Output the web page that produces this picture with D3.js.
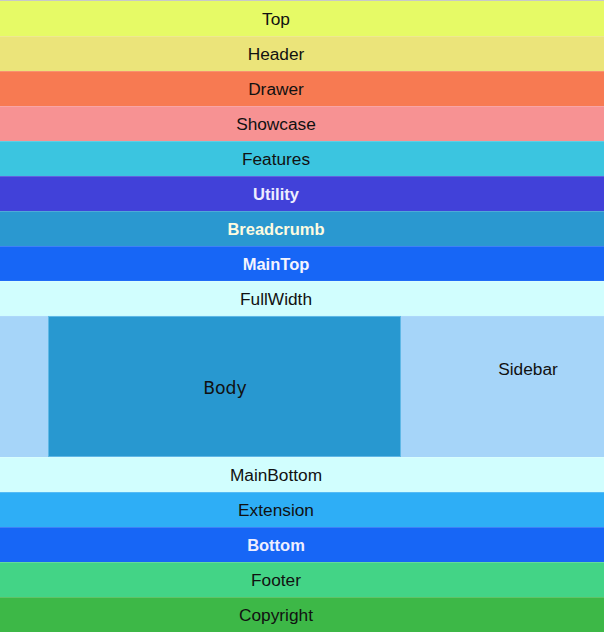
<!DOCTYPE html>
<html><head><meta charset="utf-8">
<script src="https://cdn.jsdelivr.net/npm/d3@7"></script>
<style>
html,body{margin:0;padding:0;background:#fff;}
svg{display:block;}
</style></head>
<body>
<svg id="chart" width="604" height="634"></svg>
<script>
// Layout sections, top to bottom (units = relative row height)
const sections = ["Top","Header","Drawer","Showcase","Features","Utility","Breadcrumb","MainTop","FullWidth","Main","MainBottom","Extension","Bottom","Footer","Copyright"];
const sectionUnits = [1,1,1,1,1,1,1,1,1,4.03,1,1,1,1,1];
const sectionColors = ["#e6fa66","#ebe47a","#f77a52","#f79293","#3bc5e0","#4141d9","#2a98d0","#1766f6","#d1fefe","#a6d5f9","#d1fefe","#2eaef6","#1766f6","#43d486","#3db847"];
const labelColors = ["#111","#111","#111","#111","#111","#ededff","#fdfbe0","#f4f4ff","#111",null,"#111","#111","#eeeeff","#111","#111"];
const labelBold = [false,false,false,false,false,true,true,true,false,false,false,false,true,false,false];
// Main area columns
const mainCols = ["pad","Body","Sidebar"];
const mainColUnits = [48,353,203];
const mainColColors = ["#a6d5f9","#2898d0","#a6d5f9"];

const svg = d3.select("#chart");
const W = 604;

// top gray line
svg.append("rect").attr("x",0).attr("y",0).attr("width",W).attr("height",1.2).attr("fill","#c8c8c8");

const cum = [0];
sectionUnits.forEach(u => cum.push(cum[cum.length-1]+u));
const y = d3.scaleLinear().domain([0, cum[cum.length-1]]).range([1, 632]);
const colCum = [0];
mainColUnits.forEach(u => colCum.push(colCum[colCum.length-1]+u));
const x = d3.scaleLinear().domain([0, colCum[colCum.length-1]]).range([0, W]);

const rows = sections.map((name,i)=>({name, i, y0:y(cum[i]), y1:y(cum[i+1])}));

const g = svg.append("g");
g.selectAll("rect.row").data(rows).join("rect")
  .attr("class","row")
  .attr("x",0).attr("width",W)
  .attr("y",d=>d.y0).attr("height",d=>d.y1-d.y0)
  .attr("fill",d=>sectionColors[d.i]);

// subtle lighter separator lines
g.selectAll("line.sep").data(rows.slice(1)).join("line")
  .attr("class","sep")
  .attr("x1",0).attr("x2",W)
  .attr("y1",d=>d.y0+0.5).attr("y2",d=>d.y0+0.5)
  .attr("stroke","#fff").attr("stroke-opacity",0.18).attr("stroke-width",1);

g.selectAll("text.lbl").data(rows.filter(d=>d.name!=="Main")).join("text")
  .attr("class","lbl")
  .attr("x",276)
  .attr("y",d=>(d.y0+d.y1)/2+1.8)
  .attr("text-anchor","middle")
  .attr("dominant-baseline","middle")
  .attr("font-family","'Liberation Sans', Arial, Helvetica, sans-serif")
  .attr("font-size",d=>labelBold[d.i]?16.5:17.3)
  .attr("font-weight",d=>labelBold[d.i]?"bold":"normal")
  .attr("fill",d=>labelColors[d.i])
  .text(d=>d.name);

// Main area
const main = rows.find(d=>d.name==="Main");
const cols = mainCols.map((name,i)=>({name,i,x0:x(colCum[i]),x1:x(colCum[i+1])}));
g.selectAll("rect.col").data(cols).join("rect")
  .attr("class","col")
  .attr("x",d=>d.x0).attr("width",d=>d.x1-d.x0)
  .attr("y",main.y0+0.5).attr("height",main.y1-main.y0-1)
  .attr("fill",d=>mainColColors[d.i]);
// body outline
const body = cols[1];
g.append("rect").attr("x",body.x0+0.5).attr("y",main.y0+0.5)
  .attr("width",body.x1-body.x0-1).attr("height",main.y1-main.y0-1)
  .attr("fill","none").attr("stroke","#5fb8e6").attr("stroke-width",1);

g.append("text").attr("x",(body.x0+body.x1)/2+0.5).attr("y",y(cum[9]+2.1))
  .attr("text-anchor","middle").attr("dominant-baseline","middle")
  .attr("font-family","'DejaVu Sans', Verdana, sans-serif")
  .attr("font-size",17.3).attr("fill","#111").text("Body");
const side = cols[2];
g.append("text").attr("x",528).attr("y",y(cum[9]+1.56))
  .attr("text-anchor","middle").attr("dominant-baseline","middle")
  .attr("font-family","'Liberation Sans', Arial, Helvetica, sans-serif")
  .attr("font-size",17.3).attr("fill","#111").text("Sidebar");
</script>
</body></html>
